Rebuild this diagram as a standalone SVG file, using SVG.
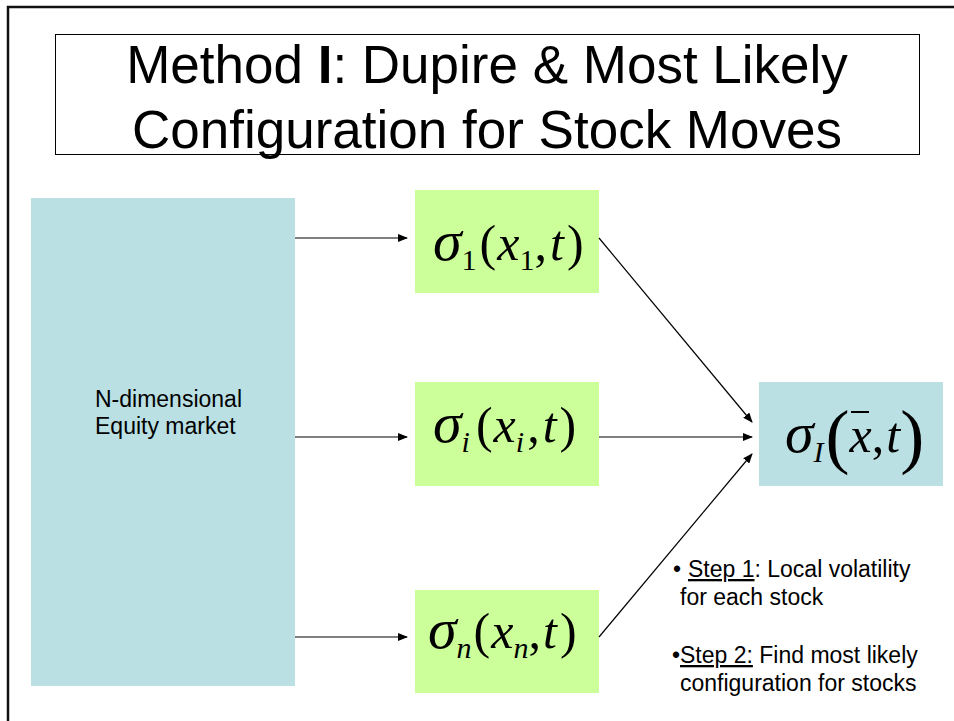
<svg xmlns="http://www.w3.org/2000/svg" width="954" height="721" viewBox="0 0 954 721">
<style>
.sans{font-family:"Liberation Sans",Arial,sans-serif;fill:#000}
.m{font-family:"Liberation Serif","Times New Roman",serif;fill:#000;font-size:50px}
.it{font-style:italic}
.sg{font-style:italic;font-size:58px}
.sub{font-size:30px}
.green{fill:#CCFF99}
.blue{fill:#BBE0E3}
.conn{stroke:#000;stroke-width:1.2;fill:none;marker-end:url(#ah)}
</style>
<defs>
<marker id="ah" markerWidth="10" markerHeight="8" refX="9" refY="4" orient="auto" markerUnits="userSpaceOnUse">
<path d="M0,0 L10,4 L0,8 Z" fill="#000"/>
</marker>
</defs>
<rect x="0" y="0" width="954" height="721" fill="#fff"/>
<path d="M8,721 V7 H954" stroke="#111" stroke-width="2.5" fill="none"/>
<g id="title">
<rect x="55.5" y="34.5" width="864" height="120" fill="#fff" stroke="#000" stroke-width="1"/>
<text class="sans" x="487" y="83" font-size="53" text-anchor="middle">Method <tspan font-weight="bold">I</tspan>: Dupire &amp; Most Likely</text>
<text class="sans" x="487" y="148" font-size="53" text-anchor="middle">Configuration for Stock Moves</text>
</g>
<g id="market">
<rect class="blue" x="31" y="198" width="264" height="488"/>
<text class="sans" x="95" y="407" font-size="23">N-dimensional</text>
<text class="sans" x="95" y="434" font-size="23">Equity market</text>
</g>
<g id="sigma1">
<rect class="green" x="415" y="190" width="184" height="103"/>
<text class="m" x="433" y="260"><tspan class="sg">σ</tspan><tspan class="sub" dy="10">1</tspan><tspan dy="-10" dx="3">(</tspan><tspan class="it" dx="1">x</tspan><tspan class="sub" dy="10">1</tspan><tspan dy="-10">,</tspan><tspan class="it" dx="3">t</tspan><tspan dx="3">)</tspan></text>
</g>
<g id="sigmai">
<rect class="green" x="415" y="382" width="184" height="104"/>
<text class="m" x="433" y="442"><tspan class="sg">σ</tspan><tspan class="it sub" dy="10">i</tspan><tspan dy="-10" dx="6">(</tspan><tspan class="it" dx="1">x</tspan><tspan class="it sub" dy="10">i</tspan><tspan dy="-10" dx="3">,</tspan><tspan class="it" dx="3">t</tspan><tspan dx="3">)</tspan></text>
</g>
<g id="sigman">
<rect class="green" x="415" y="590" width="184" height="103"/>
<text class="m" x="428" y="648"><tspan class="sg">σ</tspan><tspan class="it sub" dy="10">n</tspan><tspan dy="-10" dx="2">(</tspan><tspan class="it" dx="1">x</tspan><tspan class="it sub" dy="10">n</tspan><tspan dy="-10">,</tspan><tspan class="it" dx="2">t</tspan><tspan dx="3">)</tspan></text>
</g>
<g id="sigmaI">
<rect class="blue" x="759" y="382" width="184" height="104"/>
<text class="m" x="785" y="452"><tspan class="sg">σ</tspan><tspan class="it sub" dy="10">I</tspan><tspan dy="-2" dx="2" font-size="72">(</tspan><tspan class="it" dy="-8">x</tspan><tspan>,</tspan><tspan class="it" dx="2">t</tspan><tspan dy="8" font-size="72">)</tspan></text>
<line x1="851" y1="412" x2="869" y2="412" stroke="#000" stroke-width="2"/>
</g>
<g id="steps">
<text class="sans" font-size="23"><tspan x="673" y="577">• </tspan><tspan x="688" y="577" text-decoration="underline">Step 1</tspan><tspan>: Local volatility</tspan><tspan x="680" y="605">for each stock</tspan></text>
<text class="sans" font-size="23"><tspan x="672" y="663">•</tspan><tspan x="680" y="663" text-decoration="underline">Step 2:</tspan><tspan> Find most likely</tspan><tspan x="680" y="691">configuration for stocks</tspan></text>
</g>
<g id="connectors">
<line class="conn" x1="295" y1="238" x2="407" y2="238"/>
<line class="conn" x1="295" y1="437" x2="407" y2="437"/>
<line class="conn" x1="295" y1="637" x2="407" y2="637"/>
<line class="conn" x1="599" y1="238" x2="752" y2="422"/>
<line class="conn" x1="599" y1="437" x2="752" y2="437"/>
<line class="conn" x1="599" y1="637" x2="752" y2="454"/>
</g>
</svg>
